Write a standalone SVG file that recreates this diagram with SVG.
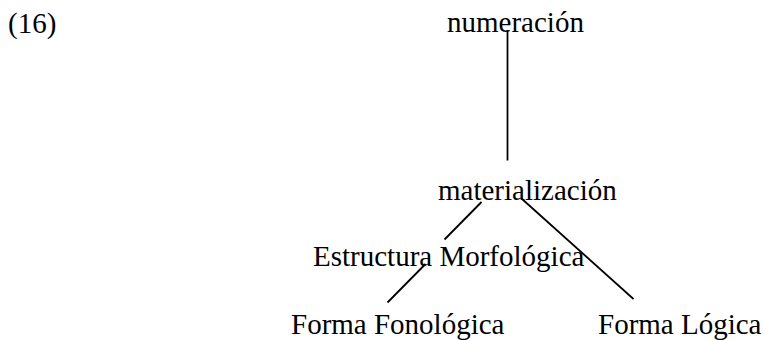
<svg xmlns="http://www.w3.org/2000/svg" width="763" height="340" viewBox="0 0 763 340">
<style>
text{font-family:"Liberation Serif","Times New Roman",serif;font-size:29px;fill:#000}
.c line{stroke:#000;stroke-width:1.8;fill:none}
</style>
<rect width="763" height="340" fill="#fff"/>
<g id="label"><text x="8" y="33">(16)</text></g>
<g id="numeracion"><text x="447" y="32">numeración</text></g>
<g id="materializacion"><text x="438" y="200">materialización</text></g>
<g id="estructura"><text x="313" y="266">Estructura Morfológica</text></g>
<g id="fonologica"><text x="291" y="334">Forma Fonológica</text></g>
<g id="logica"><text x="598" y="334">Forma Lógica</text></g>
<g class="c" id="connectors">
<line x1="507.5" y1="30" x2="507.5" y2="160.5"/>
<line x1="481.5" y1="202" x2="444.5" y2="239.5"/>
<line x1="521.5" y1="198.5" x2="633.5" y2="299"/>
<line x1="425.5" y1="264" x2="387.5" y2="302.5"/>
</g>
</svg>
